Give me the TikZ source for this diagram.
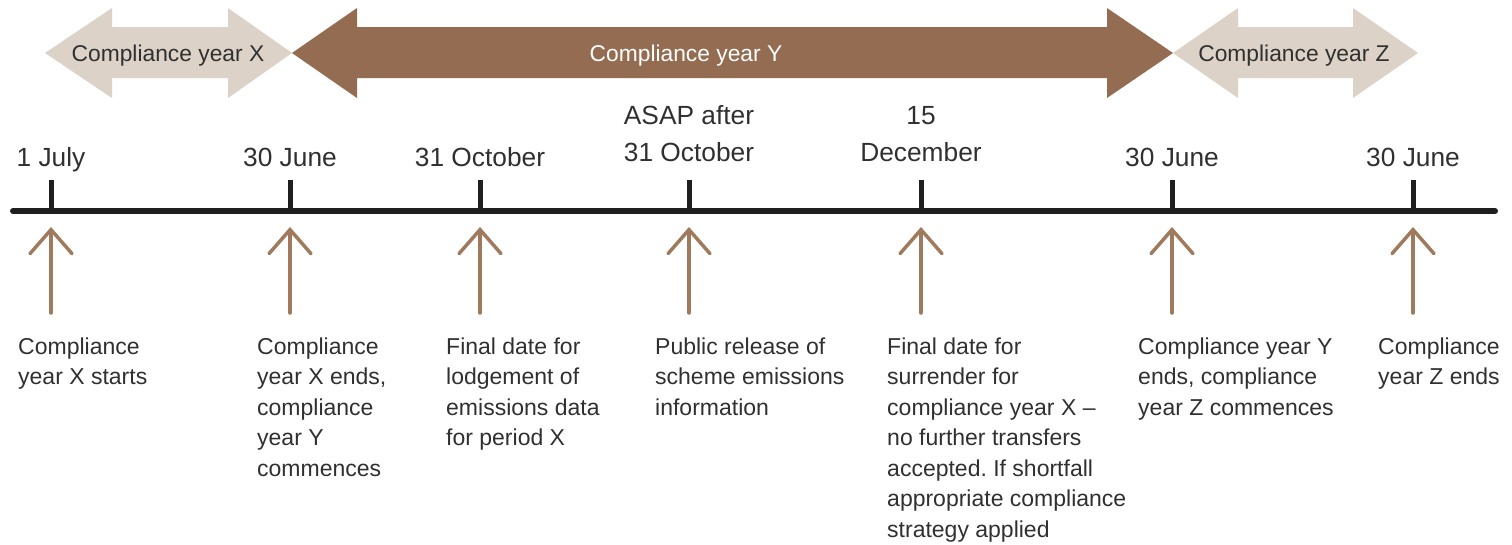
\documentclass[tikz,border=0pt]{standalone}
\usepackage{fontspec}
\setmainfont{Liberation Sans}
\usetikzlibrary{arrows.meta}
\definecolor{beige}{HTML}{DCD2C7}
\definecolor{darkbrown}{HTML}{936C52}
\definecolor{arrowbrown}{HTML}{A07A5C}
\definecolor{txt}{HTML}{303030}
\frenchspacing
\begin{document}
\begin{tikzpicture}[x=1pt,y=-1pt,
  bandtext/.style={font=\fontsize{22.8}{27}\selectfont, inner sep=0pt, anchor=base},
  datelabel/.style={font=\fontsize{26.3}{36.5}\selectfont, text=txt, inner sep=0pt, anchor=base, align=center},
  desc/.style={font=\fontsize{23}{30.5}\selectfont, text=txt, inner sep=0pt, anchor=base west, align=left},
  timeline/.style={line width=6pt, line cap=round, draw=black!88},
  tickline/.style={line width=5pt, draw=black!88},
  uparrow/.style={line width=3.5pt, draw=arrowbrown, line cap=round,
    -{Straight Barb[length=24pt,width=42pt,line cap=round]}}
]
\useasboundingbox (0,0) rectangle (1512,544);

% ---- compliance-year bands ----
\fill[beige] (45,53) -- (112,8) -- (112,27) -- (228,27) -- (228,8) -- (292,53)
  -- (228,98) -- (228,78) -- (112,78) -- (112,98) -- cycle;
\fill[darkbrown] (292,53) -- (357,8) -- (357,27) -- (1107,27) -- (1107,8) -- (1173,53)
  -- (1107,98) -- (1107,78) -- (357,78) -- (357,98) -- cycle;
\fill[beige] (1173,53) -- (1238,8) -- (1238,27) -- (1353,27) -- (1353,8) -- (1418,53)
  -- (1353,98) -- (1353,78) -- (1238,78) -- (1238,98) -- cycle;
\node[bandtext, text=txt] (yx) at (168,61.5) {Compliance year X};
\node[bandtext, text=white] (yy) at (686,61.5) {Compliance year Y};
\node[bandtext, text=txt] (yz) at (1294,61.5) {Compliance year Z};

% ---- timeline ----
\coordinate (tlL) at (13,211);
\coordinate (tlR) at (1495,211);
\draw[timeline] (tlL) -- (tlR);

\foreach \i/\x in {1/51, 2/290, 3/480, 4/689, 5/921, 6/1172, 7/1413}{
  \coordinate (tk\i) at (\x,180);
  \coordinate (tb\i) at (\x,211);
  \draw[tickline] (tk\i) -- (tb\i);
  \coordinate (ab\i) at (\x,313);
  \coordinate (at\i) at (\x,227);
  \draw[uparrow] (ab\i) -- (at\i);
}

% ---- date labels (anchor = baseline of last line) ----
\node[datelabel] (d1) at (51,166.5) {1 July};
\node[datelabel] (d2) at (290,166.5) {30 June};
\node[datelabel] (d3) at (480,166.5) {31 October};
\node[datelabel] (d4) at (689,161) {ASAP after\\31 October};
\node[datelabel] (d5) at (921,161) {15\\December};
\node[datelabel] (d6) at (1172,166.5) {30 June};
\node[datelabel] (d7) at (1413,166.5) {30 June};

% ---- descriptions (anchor = baseline of last line) ----
\node[desc] (e1) at (18,384.5) {Compliance\\year X starts};
\node[desc] (e2) at (257,476) {Compliance\\year X ends,\\compliance\\year Y\\commences};
\node[desc] (e3) at (446,445.5) {Final date for\\lodgement of\\emissions data\\for period X};
\node[desc] (e4) at (655,415) {Public release of\\scheme emissions\\information};
\node[desc] (e5) at (887,537) {Final date for\\surrender for\\compliance year X --\\no further transfers\\accepted. If shortfall\\appropriate compliance\\strategy applied};
\node[desc] (e6) at (1138,415) {Compliance year Y\\ends, compliance\\year Z commences};
\node[desc] (e7) at (1378,384.5) {Compliance\\year Z ends};
\end{tikzpicture}
\end{document}
